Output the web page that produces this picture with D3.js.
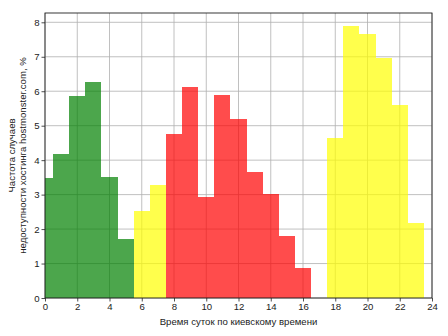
<!DOCTYPE html>
<html>
<head>
<meta charset="utf-8">
<script src="https://cdn.jsdelivr.net/npm/d3@7/dist/d3.min.js"></script>
<style>
  html, body { margin: 0; padding: 0; background: #fff; }
  svg { display: block; font-family: "Liberation Sans", Arial, sans-serif; }
</style>
</head>
<body>
<svg id="chart" width="448" height="336"></svg>
<script>
// Hours of the day (bar centres) and outage frequency per hour, %
const hours = [0, 1, 2, 3, 4, 5, 6, 7, 8, 9, 10, 11, 12, 13, 14, 15, 16, 17, 18, 19, 20, 21, 22, 23];
const frequency = [3.47, 4.17, 5.85, 6.28, 3.50, 1.72, 2.52, 3.27, 4.75, 6.12, 2.93, 5.88,
                   5.18, 3.67, 3.03, 1.80, 0.88, 0, 4.65, 7.88, 7.65, 6.97, 5.60, 2.17];
// Period of the day each hour belongs to
const period = ["night", "night", "night", "night", "night", "night", "morning", "morning",
                "day", "day", "day", "day", "day", "day", "day", "day", "day", "day",
                "evening", "evening", "evening", "evening", "evening", "evening"];
const periodColor = { night: "#008000", morning: "#ffff00", day: "#ff0000", evening: "#ffff00" };
const xTicks = [0, 2, 4, 6, 8, 10, 12, 14, 16, 18, 20, 22, 24];
const yTicks = [0, 1, 2, 3, 4, 5, 6, 7, 8];

const margin = { left: 45, right: 16, top: 13, bottom: 38 };
const W = 448, H = 336;
const yMax = 8.27;
const svg = d3.select("#chart");

const x = d3.scaleLinear().domain([0, 24]).range([margin.left, W - margin.right]);
const y = d3.scaleLinear().domain([0, yMax]).range([H - margin.bottom, margin.top]);

svg.append("defs").append("clipPath").attr("id", "plot-clip")
  .append("rect")
  .attr("x", x(0)).attr("y", y(yMax))
  .attr("width", x(24) - x(0)).attr("height", y(0) - y(yMax));

// Grid
const grid = svg.append("g").attr("stroke", "#b0b0b0").attr("stroke-width", 0.8);
grid.selectAll("line.gx").data(xTicks).join("line")
  .attr("x1", d => x(d)).attr("x2", d => x(d))
  .attr("y1", y(0)).attr("y2", y(yMax));
grid.selectAll("line.gy").data(yTicks).join("line")
  .attr("y1", d => y(d)).attr("y2", d => y(d))
  .attr("x1", x(0)).attr("x2", x(24));

// Bars, one hour wide, centred on the hour
svg.append("g").attr("clip-path", "url(#plot-clip)")
  .attr("shape-rendering", "crispEdges")
  .selectAll("rect").data(hours).join("rect")
  .attr("x", (d) => x(d - 0.5))
  .attr("width", x(1) - x(0))
  .attr("y", (d, i) => y(frequency[i]))
  .attr("height", (d, i) => y(0) - y(frequency[i]))
  .attr("fill", (d, i) => periodColor[period[i]])
  .attr("fill-opacity", 0.7);

// Axes
const fs = 9.6;
const xAxis = d3.axisBottom(x).tickValues(xTicks).tickSize(3.5).tickPadding(2).tickFormat(d3.format("d"));
const yAxis = d3.axisLeft(y).tickValues(yTicks).tickSize(3.5).tickPadding(2).tickFormat(d3.format("d"));

const gx = svg.append("g").attr("transform", `translate(0,${y(0)})`).call(xAxis);
const gy = svg.append("g").attr("transform", `translate(${x(0)},0)`).call(yAxis);
[gx, gy].forEach(g => {
  g.select(".domain").remove();
  g.selectAll("text").attr("font-size", fs).attr("fill", "#222");
  g.selectAll("line").attr("stroke", "#222").attr("stroke-width", 0.8);
});

// Frame
svg.append("rect")
  .attr("x", x(0)).attr("y", y(yMax))
  .attr("width", x(24) - x(0)).attr("height", y(0) - y(yMax))
  .attr("fill", "none").attr("stroke", "#222").attr("stroke-width", 0.9);

// Axis titles
svg.append("text")
  .attr("x", (x(0) + x(24)) / 2).attr("y", 325)
  .attr("text-anchor", "middle").attr("font-size", fs).attr("fill", "#222")
  .text("Время суток по киевскому времени");

const yc = (y(0) + y(yMax)) / 2;
const yl = svg.append("text")
  .attr("transform", `translate(14.5,${yc}) rotate(-90)`)
  .attr("text-anchor", "middle").attr("font-size", fs).attr("fill", "#222");
yl.append("tspan").attr("x", 0).attr("dy", 0).text("Частота случаев");
yl.append("tspan").attr("x", 0).attr("dy", 11).text("недоступности хостинга hostmonster.com, %");
</script>
</body>
</html>
